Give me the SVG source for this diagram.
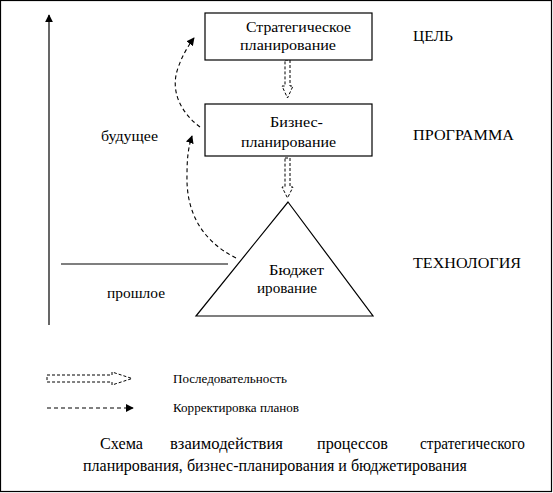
<svg xmlns="http://www.w3.org/2000/svg" width="553" height="493" viewBox="0 0 553 493">
<style>
text{font-family:"Liberation Serif","Times New Roman",serif;fill:#000}
.t15{font-size:15px}
.t14{font-size:14px}
.t12{font-size:12px}
.t16{font-size:16px}
.box{fill:#fff;stroke:#000;stroke-width:1.2}
.solid{fill:none;stroke:#000;stroke-width:1.2}
.dash{fill:none;stroke:#000;stroke-width:1.1;stroke-dasharray:4 3}
.hollow{fill:#fff;stroke:#000;stroke-width:1;stroke-dasharray:3 2}
</style>
<defs>
<marker id="fa" viewBox="0 0 10 10" refX="9" refY="5" markerWidth="8" markerHeight="8" markerUnits="userSpaceOnUse" orient="auto">
<path d="M0,0 L10,5 L0,10 Z" fill="#000"/>
</marker>
</defs>
<rect x="0.5" y="0.5" width="551" height="491" fill="#fff" stroke="#000" stroke-width="1.2"/>
<g id="connectors">
<line class="solid" x1="49" y1="325" x2="49" y2="15" marker-end="url(#fa)"/>
<line class="solid" x1="61" y1="264" x2="228" y2="264"/>
<path class="hollow" d="M285,60 L290,60 L290,86 L293,86 L287.5,98 L282,86 L285,86 Z"/>
<path class="hollow" d="M285,158 L290,158 L290,187 L293,187 L287.5,198 L282,187 L285,187 Z"/>
<path class="dash" d="M236,258 C200,240 186,210 187,175 C187,160 188,148 192,136" marker-end="url(#fa)"/>
<path class="dash" d="M200,127 C180,112 170,90 178,68 C182,56 188,46 194,38" marker-end="url(#fa)"/>
</g>
<g id="node-strategic">
<rect class="box" x="205" y="13" width="167" height="47"/>
<text class="t15" x="246" y="32" textLength="105" lengthAdjust="spacingAndGlyphs">Стратегическое</text>
<text class="t15" x="240" y="50" textLength="96" lengthAdjust="spacingAndGlyphs">планирование</text>
</g>
<g id="node-business">
<rect class="box" x="205" y="104" width="167" height="52"/>
<text class="t15" x="270" y="127" textLength="53" lengthAdjust="spacingAndGlyphs">Бизнес-</text>
<text class="t15" x="241" y="147" textLength="95" lengthAdjust="spacingAndGlyphs">планирование</text>
</g>
<g id="node-budget">
<polygon class="box" points="288,202 373,316 196,316"/>
<text class="t15" x="269" y="275" textLength="55" lengthAdjust="spacingAndGlyphs">Бюджет</text>
<text class="t15" x="257" y="293" textLength="60" lengthAdjust="spacingAndGlyphs">ирование</text>
</g>
<g id="labels">
<text class="t15" x="413" y="41" textLength="40" lengthAdjust="spacingAndGlyphs">ЦЕЛЬ</text>
<text class="t15" x="413" y="140" textLength="101" lengthAdjust="spacingAndGlyphs">ПРОГРАММА</text>
<text class="t15" x="413" y="268" textLength="108" lengthAdjust="spacingAndGlyphs">ТЕХНОЛОГИЯ</text>
<text class="t15" x="101" y="141" textLength="57" lengthAdjust="spacingAndGlyphs">будущее</text>
<text class="t15" x="107" y="298" textLength="58" lengthAdjust="spacingAndGlyphs">прошлое</text>
</g>
<g id="legend">
<path class="hollow" d="M47,375 L112,375 L112,372 L132,378.5 L112,385 L112,382 L47,382 Z"/>
<text class="t12" x="173" y="383" textLength="114" lengthAdjust="spacingAndGlyphs">Последовательность</text>
<line class="dash" x1="47" y1="408" x2="133" y2="408" stroke-dasharray="3 3" marker-end="url(#fa)"/>
<text class="t12" x="173" y="412" textLength="126" lengthAdjust="spacingAndGlyphs">Корректировка планов</text>
</g>
<g id="caption">
<text class="t16" x="100" y="449" textLength="43" lengthAdjust="spacingAndGlyphs">Схема</text>
<text class="t16" x="170" y="449" textLength="113" lengthAdjust="spacingAndGlyphs">взаимодействия</text>
<text class="t16" x="317" y="449" textLength="71" lengthAdjust="spacingAndGlyphs">процессов</text>
<text class="t16" x="420" y="449" textLength="105" lengthAdjust="spacingAndGlyphs">стратегического</text>
<text class="t16" x="83" y="471" textLength="384" lengthAdjust="spacingAndGlyphs">планирования, бизнес-планирования и бюджетирования</text>
</g>
</svg>
